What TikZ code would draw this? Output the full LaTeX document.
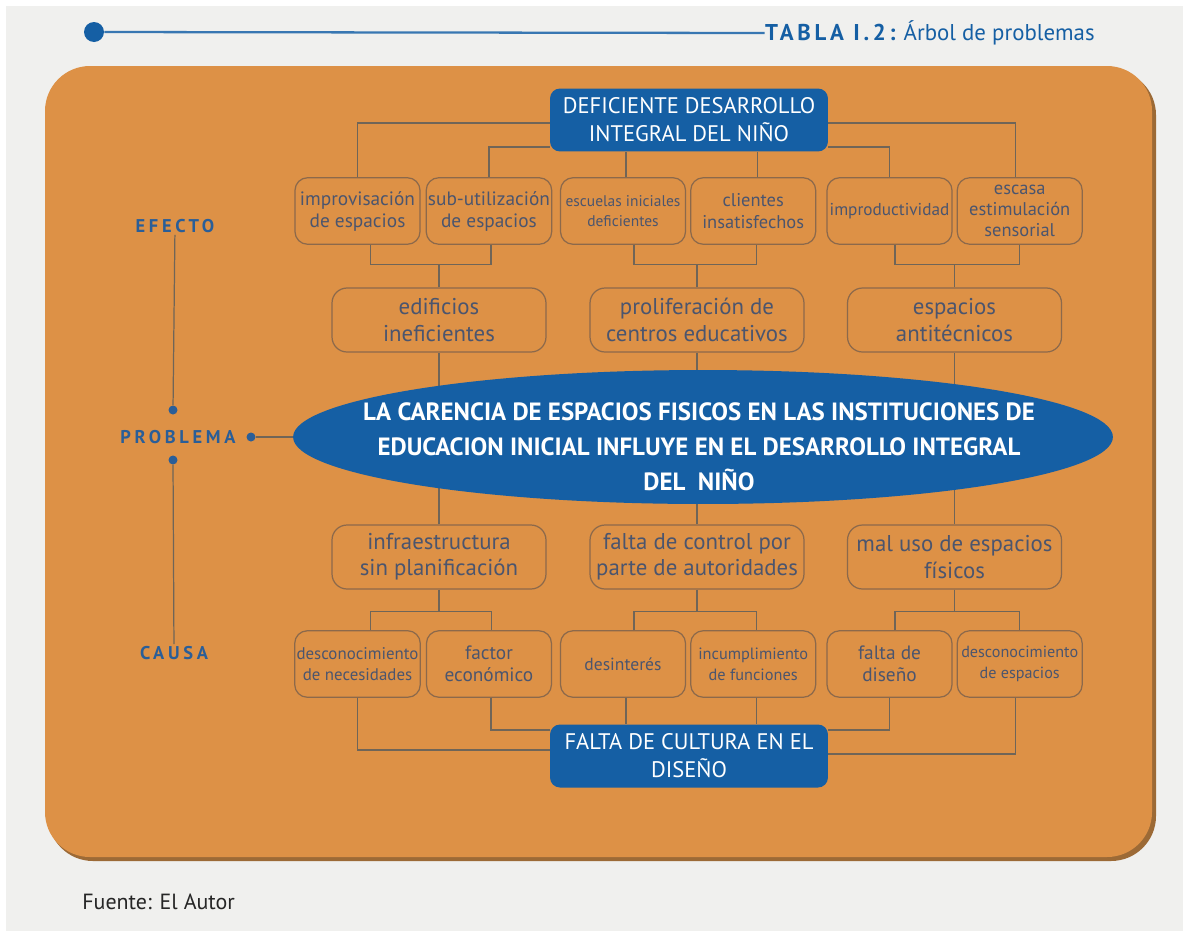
\documentclass[tikz,border=0pt]{standalone}
\usepackage{fontspec}
\setmainfont{PT Sans}
\usetikzlibrary{positioning, shapes.geometric}
\pgfdeclarelayer{fondo}
\pgfsetlayers{fondo,main}
\definecolor{naranja}{HTML}{DD9146}
\definecolor{sombra}{HTML}{9C6A36}
\definecolor{azul}{HTML}{155FA4}
\definecolor{azuleje}{HTML}{2A5E98}
\definecolor{borde}{HTML}{8C694B}
\definecolor{linea}{HTML}{6F6558}
\definecolor{texto}{HTML}{4B556E}
\definecolor{gris}{HTML}{F0F0EE}

\begin{document}
\begin{tikzpicture}[x=0.02cm, y=-0.02cm, node distance=0.1cm and 0.1cm,
    cajaazul/.style={rectangle, rounded corners=0.2cm, fill=azul, text=white, align=center, inner sep=1pt, minimum width=5.56cm, minimum height=1.26cm, font=\fontsize{12.8}{16}\selectfont},
    efecto/.style={rectangle, rounded corners=0.25cm, draw=borde, line width=0.7pt, text=texto, align=center, inner sep=1pt, minimum width=2.5cm, minimum height=1.33cm, font=\fontsize{11}{12.5}\selectfont},
    chica/.style={efecto, font=\fontsize{9}{12}\selectfont},
    nivel/.style={efecto, rounded corners=0.3cm, minimum width=4.28cm, minimum height=1.28cm, font=\fontsize{13}{15}\selectfont},
    eje/.style={text=azuleje, inner sep=1pt, font=\fontsize{10.5}{11}\selectfont\bfseries\addfontfeature{LetterSpace=20}},
    punto/.style={circle, fill=azuleje, inner sep=0pt, minimum size=0.18cm},
    liga/.style={draw=linea, line width=0.7pt}]

    % fondo y panel
    \begin{pgfonlayer}{fondo}
        \fill[white] (0,0) rectangle (1189,937);
        \fill[gris] (6,6) rectangle (1183,931);
        \fill[sombra, rounded corners=0.9cm] (48,70) rectangle (1156,861);
        \fill[naranja, rounded corners=0.9cm] (45,66) rectangle (1152,857);
    \end{pgfonlayer}

    % titulo
    \node[punto, fill=azul, minimum size=0.4cm] (bola) at (94,32) {};
    \node[anchor=east, inner sep=0pt, text=azul, font=\fontsize{13}{15}\selectfont] (titulo) at (1095,33) {{\bfseries\addfontfeature{LetterSpace=16}TABLA I.2:} Árbol de problemas};
    \draw[azul!85, line width=1.3pt] (bola) -- (titulo.west);
    \node[anchor=west, inner sep=0pt, text=black!85, font=\fontsize{12.5}{14}\selectfont] (fuente) at (82,902) {Fuente: El Autor};

    % efectos
    \node[cajaazul] (deficiente) at (689,120) {DEFICIENTE DESARROLLO\\INTEGRAL DEL NIÑO};
    \node[efecto] (improv) at (357.5,211) {improvisación\\de espacios};
    \node[efecto] (subutil) [right=of improv] {sub-utilización\\de espacios};
    \node[chica, font=\fontsize{8.8}{11.5}\selectfont] (escuelas) at (623,211) {escuelas iniciales\\deficientes};
    \node[efecto, font=\fontsize{10.5}{12.5}\selectfont] (clientes) [right=0.08cm of escuelas] {clientes\\insatisfechos};
    \node[chica, font=\fontsize{9.8}{11}\selectfont] (improd) at (889.5,211) {improductividad};
    \node[efecto, font=\fontsize{10.5}{12}\selectfont] (escasa) [right=0.08cm of improd] {escasa\\estimulación\\sensorial};

    \node[nivel] (edificios) at (439,320) {edificios\\ineficientes};
    \node[nivel] (prolif) at (697,320) {proliferación de\\centros educativos};
    \node[nivel] (antitec) at (954.5,320) {espacios\\antitécnicos};

    % problema
    \node[ellipse, fill=azul, minimum width=16.4cm, minimum height=2.68cm] (problema) at (703,437) {};
    \node[text=white, align=center, font=\fontsize{14.2}{20}\selectfont\bfseries] (problematxt) at (699,447) {LA CARENCIA DE ESPACIOS FISICOS EN LAS INSTITUCIONES DE\\EDUCACION INICIAL INFLUYE EN EL DESARROLLO INTEGRAL\\DEL~~NIÑO};

    % causas
    \node[nivel] (infra) at (439,557) {infraestructura\\sin planificación};
    \node[nivel] (control) at (697,557) {falta de control por\\parte de autoridades};
    \node[nivel] (maluso) at (954.5,557) {mal uso de espacios\\físicos};

    \node[chica, font=\fontsize{9.6}{12}\selectfont] (descnec) at (357.5,664) {desconocimiento\\de necesidades};
    \node[efecto] (factor) [right=of descnec] {factor\\económico};
    \node[efecto, font=\fontsize{10}{12}\selectfont] (desint) at (623,664) {desinterés};
    \node[chica, font=\fontsize{9.3}{12}\selectfont] (incumpl) [right=0.08cm of desint] {incumplimiento\\de funciones};
    \node[efecto] (disen) at (889.5,664) {falta de\\diseño};
    \node[chica, font=\fontsize{9.2}{12}\selectfont] (desesp) [right=0.08cm of disen] {desconocimiento\\de espacios};
    \node[cajaazul] (falta) at (689,756) {FALTA DE CULTURA EN EL\\DISEÑO};

    % eje izquierdo
    \node[eje] (efectolbl) at (175,226) {EFECTO};
    \node[punto] (p1) at (173,410) {};
    \node[eje] (problemalbl) at (178,437) {PROBLEMA};
    \node[punto] (p2) at (251,437) {};
    \node[punto] (p3) at (173,460) {};
    \node[eje] (causalbl) at (174,653) {CAUSA};
    \draw[liga] (efectolbl) -- (p1);
    \draw[liga] (p3) -- (causalbl);

    \begin{pgfonlayer}{fondo}
        \draw[liga] (p2) -- (problema.west);
        \foreach \n in {edificios, prolif, antitec}
            \draw[liga] (\n.south) -- (\n.south |- problema.center);
        \foreach \n in {infra, control, maluso}
            \draw[liga] (\n.north) -- (\n.north |- problema.center);
    \end{pgfonlayer}

    % conectores de efectos
    \draw[liga] ([yshift=-0.06cm]deficiente.west) -| (improv.north);
    \draw[liga] ([yshift=-0.54cm]deficiente.west) -| (subutil.north);
    \draw[liga] ([xshift=0.06cm]escuelas.north |- deficiente.south) -- ([xshift=0.06cm]escuelas.north);
    \draw[liga] ([xshift=0.08cm]clientes.north |- deficiente.south) -- ([xshift=0.08cm]clientes.north);
    \draw[liga] ([yshift=-0.54cm]deficiente.east) -| (improd.north);
    \draw[liga] ([yshift=-0.06cm]deficiente.east) -| ([xshift=-0.08cm]escasa.north);

    \draw[liga] ([xshift=0.26cm]improv.south) -- ++(0,20) coordinate (barra1) -| ([xshift=0.04cm]subutil.south);
    \draw[liga] (edificios.north) -- (edificios.north |- barra1);
    \draw[liga] ([xshift=0.22cm]escuelas.south) -- ++(0,20) coordinate (barra2) -| ([xshift=0.06cm]clientes.south);
    \draw[liga] (prolif.north) -- (prolif.north |- barra2);
    \draw[liga] ([xshift=0.11cm]improd.south) -- ++(0,20) coordinate (barra3) -| (escasa.south);
    \draw[liga] (antitec.north) -- (antitec.north |- barra3);

    % conectores de causas
    \draw[liga] (infra.south) -- ++(0,22) coordinate (barra4);
    \draw[liga] ([xshift=0.26cm]descnec.north) |- (barra4) -| ([xshift=0.05cm]factor.north);
    \draw[liga] (control.south) -- ++(0,22) coordinate (barra5);
    \draw[liga] ([xshift=0.22cm]desint.north) |- (barra5) -| ([xshift=0.06cm]incumpl.north);
    \draw[liga] (maluso.south) -- ++(0,22) coordinate (barra6);
    \draw[liga] ([xshift=0.11cm]disen.north) |- (barra6) -| (desesp.north);

    \draw[liga] (descnec.south) |- ([yshift=0.12cm]falta.west);
    \draw[liga] ([xshift=0.04cm]factor.south) |- ([yshift=0.52cm]falta.west);
    \draw[liga] ([xshift=0.06cm]desint.south) -- ([xshift=0.06cm]desint.south |- falta.north);
    \draw[liga] ([xshift=0.06cm]incumpl.south) -- ([xshift=0.06cm]incumpl.south |- falta.north);
    \draw[liga] (disen.south) |- ([yshift=0.52cm]falta.east);
    \draw[liga] ([xshift=-0.08cm]desesp.south) |- ([yshift=0.04cm]falta.east);
\end{tikzpicture}
\end{document}
